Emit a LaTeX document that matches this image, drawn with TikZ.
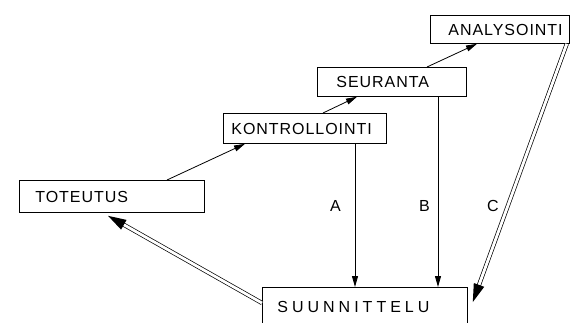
\documentclass[tikz,border=0pt]{standalone}
\usepackage{fontspec}
\setmainfont{Liberation Sans}
\newfontfamily\boxfont{Liberation Sans}[LetterSpace=6]
\newfontfamily\widefont{Liberation Sans}[LetterSpace=25]
\usetikzlibrary{arrows.meta,calc}
\tikzset{
  stage/.style={draw, line width=0.8pt, rectangle, anchor=north west,
    font=\boxfont\fontsize{16}{16}\selectfont, align=left,
    text height=11.5pt, text depth=0pt, inner ysep=0pt},
  flow/.style={draw, line width=0.8pt, -{Triangle[length=11pt,width=6pt]}},
  feedback/.style={draw, line width=0.7pt, double, double distance=2.8pt, shorten >=14pt},
  tag/.style={anchor=base west, inner sep=0pt, font=\boxfont\fontsize{16}{16}\selectfont}
}
% solid head for a double line running from #1 to #2
\newcommand\feedhead[2]{%
  \fill ($(#2)!19pt!17:(#1)$) -- (#2) -- ($(#2)!19pt!-17:(#1)$) -- cycle;}
\begin{document}
\begin{tikzpicture}[x=1pt,y=-1pt]
\useasboundingbox (0,0) rectangle (572,322);

% process stages
\node[stage, text width=153pt, inner xsep=16pt, minimum height=32pt] (tot) at (19,180) {TOTEUTUS};
\node[stage, text width=147pt, inner xsep=8pt, minimum height=30pt] (kon) at (223,113) {KONTROLLOINTI};
\node[stage, text width=111pt, inner xsep=19pt, minimum height=29pt] (seu) at (317,67) {SEURANTA};
\node[stage, text width=103pt, inner xsep=18pt, minimum height=28pt] (ana) at (430,15) {ANALYSOINTI};
\node[stage, font=\widefont\fontsize{16}{16}\selectfont, text width=175pt, inner xsep=15pt, minimum height=39pt] (sun) at (262,287) {SUUNNITTELU};

% forward chain
\draw[flow] ([xshift=148pt]tot.north west) -- ([xshift=22pt]kon.south west);
\draw[flow] ([xshift=100pt]kon.north west) -- ([xshift=40pt]seu.south west);
\draw[flow] ([xshift=110pt]seu.north west) -- ([xshift=47pt]ana.south west);

% information back to planning
\draw[flow] ([xshift=132pt]kon.south west) -- ([xshift=93pt]sun.north west);
\draw[flow] ([xshift=121pt]seu.south west) -- ([xshift=176pt]sun.north west);

% double feedback lines with solid heads
\coordinate (cs) at ([xshift=-3pt]ana.south east);
\coordinate (ce) at ([xshift=5pt,yshift=-15pt]sun.north east);
\draw[feedback] (cs) -- (ce);
\feedhead{cs}{ce}

\coordinate (ps) at ([yshift=-16pt]sun.north west);
\coordinate (pe) at ([xshift=89pt,yshift=-3pt]tot.south west);
\draw[feedback] (ps) -- (pe);
\feedhead{ps}{pe}

% channel labels
\node[tag] (la) at (330,211) {A};
\node[tag] (lb) at (419,211) {B};
\node[tag] (lc) at (487,211) {C};
\end{tikzpicture}
\end{document}
